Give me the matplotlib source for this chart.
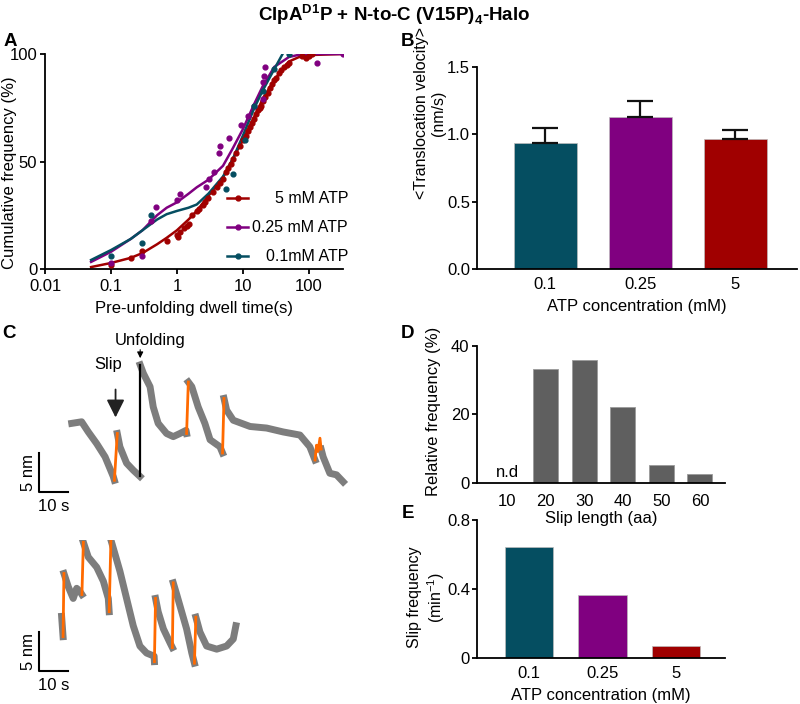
import matplotlib
matplotlib.use("Agg")
import matplotlib.pyplot as plt
from matplotlib.lines import Line2D
import numpy as np

plt.rcParams['font.family'] = ['Liberation Sans', 'DejaVu Sans']
plt.rcParams['mathtext.fontset'] = 'custom'
plt.rcParams['mathtext.rm'] = 'Liberation Sans'
plt.rcParams['mathtext.bf'] = 'Liberation Sans:bold'
plt.rcParams['font.size'] = 12
plt.rcParams['axes.linewidth'] = 1.3
plt.rcParams['xtick.major.width'] = 1.3
plt.rcParams['ytick.major.width'] = 1.3
plt.rcParams['xtick.major.size'] = 3.5
plt.rcParams['ytick.major.size'] = 3.5

TEAL = '#054e61'
PURPLE = '#800080'
RED = '#a00000'
GRAY = '#5f5f5f'
ORANGE = '#ff6a00'

# ---- panel A: cumulative dwell-time distributions ----
red_fit_x = [0.05, 0.1, 0.2, 0.3, 0.5, 0.7, 1, 1.5, 2, 3, 5, 7, 10, 15, 20, 30, 50, 70, 100, 330]
red_fit_y = [0.9, 2.8, 5.2, 7.4, 11.5, 14.5, 18, 23, 27, 34, 42.5, 51, 60, 71, 79, 88, 96.5, 98.5, 99.5, 100]
pur_fit_x = [0.05, 0.1, 0.2, 0.3, 0.5, 0.7, 1, 1.5, 2, 3, 5, 7, 10, 15, 20, 30, 50, 70, 100, 330]
pur_fit_y = [3.3, 8, 14, 18, 25, 28.5, 31, 35, 38, 41.5, 48, 56, 65, 77, 85, 94, 98.6, 99.6, 100, 100]
teal_fit_x = [0.05, 0.1, 0.2, 0.3, 0.5, 0.7, 1, 1.5, 2, 3, 5, 7, 10, 15, 20, 30, 40]
teal_fit_y = [4.2, 8.8, 14, 18, 23, 25.5, 27, 28.5, 30, 35, 43, 51, 62, 75, 83, 93, 100]

red_pts_x = [0.1, 0.2, 0.3, 0.7, 1.0, 1.05, 1.1, 1.3, 1.4, 1.5, 1.7, 2.0, 2.2, 2.5, 2.7, 3, 3.5,
             4, 4.5, 5, 5.5, 6, 6.5, 7, 8, 9, 10, 11, 12, 13, 14, 15, 16, 17, 18, 19, 20, 22,
             24, 26, 28, 30, 32, 35, 38, 42, 46, 50, 80, 90, 100, 110]
red_pts_y = [2, 5, 8.5, 13, 16, 15, 17, 19, 20, 21, 25, 27, 28, 30, 31, 33, 36,
             38, 40, 42, 45, 47, 49, 51, 54, 57, 60, 62, 64, 66, 68, 70, 72, 74, 75, 76, 78, 80,
             82, 84, 86, 88, 89, 91, 92.5, 94, 95, 96, 99, 98, 99, 100]
pur_pts_x = [0.1, 0.3, 0.4, 0.49, 1.0, 1.1, 2.8, 3.1, 3.7, 4.4, 4.5, 6.2, 9.5, 12, 15, 20, 20, 21, 22, 131, 330]
pur_pts_y = [2.8, 6, 22.5, 29, 32, 35, 38, 42, 45, 54, 57, 61, 67, 71, 76, 79, 87, 90, 94, 96, 100]
teal_pts_x = [0.1, 0.3, 0.4, 5.5, 7.2, 10.8, 15, 20, 30, 50]
teal_pts_y = [6, 12, 25, 37, 44, 60, 76, 83, 93, 100]
legend_labels = ['5 mM ATP', '0.25 mM ATP', '0.1mM ATP']

# ---- panel B: translocation velocity ----
atp_labels = ['0.1', '0.25', '5']
velocity = [0.935, 1.126, 0.966]
velocity_err = [0.112, 0.122, 0.066]
bar_colors = [TEAL, PURPLE, RED]

# ---- panel D: slip length histogram ----
slip_len = ['10', '20', '30', '40', '50', '60']
slip_freq = [0, 33.1, 35.8, 22.0, 5.3, 2.6]

# ---- panel E: slip frequency ----
slip_rate = [0.645, 0.366, 0.068]

# ---- panel C: example traces (time s, position nm) ----
tr1_gray = [
    ([11.2, 14.6, 16.9, 19.8, 22.7, 25.5, 25.9], [8.8, 9.0, 7.7, 6.2, 4.5, 2.0, 1.5]),
    ([26.9, 27.8, 30.1, 32.4, 34.7], [7.5, 5.8, 3.7, 2.8, 2.0]),
    ([34.8, 35.9, 38.2, 39.3, 41.0, 43.9, 46.2, 48.5, 50.6, 50.8],
     [16.3, 15.2, 13.5, 10.9, 8.8, 7.5, 7.1, 7.5, 7.9, 7.5]),
    ([51.4, 52.6, 54.8, 57.1, 58.9, 62.3, 63.2], [14.1, 13.5, 10.9, 8.8, 6.7, 5.8, 5.0]),
    ([63.7, 64.6, 66.9, 72.7, 78.4, 84.1, 89.9, 93.3, 95.1],
     [12.0, 10.5, 9.2, 8.4, 8.2, 7.7, 7.3, 5.8, 4.1]),
    ([97.2, 97.9, 100.2, 102.5, 104.8], [5.5, 4.5, 2.4, 2.2, 1.3]),
]
tr1_orange = [
    ([25.9, 26.9], [1.5, 7.5]),
    ([50.8, 51.4], [7.5, 14.1]),
    ([63.2, 63.7], [5.0, 12.0]),
    ([95.1, 95.6, 96.1, 96.8, 97.2], [4.1, 6.0, 5.2, 6.9, 5.5]),
]
tr1_unfold = ([34.8, 34.8], [2.0, 16.3])

tr2_gray = [
    ([7.7, 8.2], [7.0, 4.4]),
    ([8.5, 10.0, 11.7, 12.9, 14.0, 14.7], [12.5, 10.8, 9.3, 10.6, 10.2, 9.8]),
    ([15.2, 16.9, 19.8, 22.1, 23.8, 24.1], [16.5, 14.6, 13.3, 11.5, 9.3, 7.6]),
    ([24.7, 26.1, 27.8, 30.1, 32.4, 34.7, 37.0, 39.6, 39.7],
     [16.8, 15.0, 12.8, 9.3, 5.8, 3.2, 2.3, 1.9, 1.2]),
    ([40.1, 41.0, 42.8, 45.1, 45.9], [9.3, 7.6, 5.4, 3.6, 3.0]),
    ([46.2, 47.4, 49.1, 50.8, 52.6, 53.5], [11.3, 9.8, 7.6, 5.4, 2.3, 1.0]),
    ([54.0, 55.4, 57.7, 61.2, 64.6, 66.9, 67.8], [6.9, 5.0, 3.2, 2.8, 3.2, 4.1, 5.8]),
]
tr2_orange = [
    ([8.2, 8.5], [4.4, 12.5]),
    ([14.7, 15.2], [9.8, 16.5]),
    ([24.1, 24.7], [7.6, 16.8]),
    ([39.7, 40.1], [1.2, 9.3]),
    ([45.9, 46.2], [3.0, 11.3]),
    ([53.5, 54.0], [1.0, 6.9]),
]

fig = plt.figure(figsize=(8, 7.04), dpi=100)

fig.text(0.493, 1 - 15 / 704, r'ClpA$^{\mathbf{D1}}$P + N-to-C (V15P)$_{\mathbf{4}}$-Halo',
         ha='center', va='center', fontsize=13.5, fontweight='bold')
for lab, x, y in [('A', 10, 42), ('B', 408, 42), ('C', 9, 333), ('D', 408, 333), ('E', 408, 513)]:
    fig.text(x / 800, 1 - y / 704, lab, ha='center', va='center', fontsize=13.5, fontweight='bold')


def clean(ax):
    ax.spines['top'].set_visible(False)
    ax.spines['right'].set_visible(False)
    ax.patch.set_visible(False)


# A
axA = fig.add_axes([45 / 800, 1 - 269 / 704, 298 / 800, 215 / 704])
clean(axA)
axA.plot(red_fit_x, red_fit_y, color=RED, lw=1.8)
axA.plot(pur_fit_x, pur_fit_y, color=PURPLE, lw=1.8)
axA.plot(teal_fit_x, teal_fit_y, color=TEAL, lw=1.8)
axA.scatter(red_pts_x, red_pts_y, s=12, color=RED, zorder=3)
axA.scatter(pur_pts_x, pur_pts_y, s=12, color=PURPLE, zorder=3)
axA.scatter(teal_pts_x, teal_pts_y, s=12, color=TEAL, zorder=3)
axA.set_xscale('log')
axA.set_xlim(0.01, 330)
axA.set_ylim(0, 100)
axA.set_xticks([0.01, 0.1, 1, 10, 100])
axA.set_xticklabels(['0.01', '0.1', '1', '10', '100'])
axA.xaxis.set_minor_locator(matplotlib.ticker.NullLocator())
axA.set_yticks([0, 50, 100])
axA.tick_params(axis='y', pad=2)
axA.set_xlabel('Pre-unfolding dwell time(s)', labelpad=5)
axA.set_ylabel('Cumulative frequency (%)')
axA.yaxis.set_label_coords(-0.094, 0.447)
# legend drawn by hand: short line with a dot, label right-aligned
for i, (lab, col) in enumerate(zip(legend_labels, [RED, PURPLE, TEAL])):
    ly = 0.33 - i * 0.135
    axA.add_line(Line2D([0.61, 0.682], [ly, ly], transform=axA.transAxes, color=col, lw=1.8,
                        clip_on=False))
    axA.add_line(Line2D([0.646], [ly], transform=axA.transAxes, color=col, marker='o',
                        markersize=3.5, clip_on=False))
    axA.text(1.017, ly, lab, transform=axA.transAxes, ha='right', va='center', fontsize=11.5)

# B
xb = np.arange(len(atp_labels))
axB = fig.add_axes([477 / 800, 1 - 269 / 704, 320 / 800, 202 / 704])
clean(axB)
axB.bar(xb, velocity, width=0.66, color=bar_colors, edgecolor='#bbbbbb', linewidth=0.5,
        yerr=[[0] * 3, velocity_err], capsize=9.5,
        error_kw=dict(elinewidth=1.6, capthick=1.6, ecolor='#111111'))
axB.set_xlim(-0.72, 2.65)
axB.set_ylim(0, 1.5)
axB.set_xticks(xb)
axB.set_xticklabels(atp_labels)
axB.tick_params(axis='x', length=0, pad=6)
axB.tick_params(axis='y', pad=1.5)
axB.set_yticks([0, 0.5, 1.0, 1.5])
axB.set_yticklabels(['0.0', '0.5', '1.0', '1.5'])
axB.set_xlabel('ATP concentration (mM)', labelpad=5)
axB.set_ylabel('<Translocation velocity>\n(nm/s)', fontsize=11.5)
axB.yaxis.set_label_coords(-0.097, 0.77)

# D
xd = np.arange(len(slip_len))
axD = fig.add_axes([477 / 800, 1 - 483 / 704, 248 / 800, 137.3 / 704])
clean(axD)
axD.bar(xd, slip_freq, width=0.65, color=GRAY, edgecolor='#9a9a9a', linewidth=0.6)
axD.text(xd[0], 0.8, 'n.d', ha='center', va='bottom', fontsize=12)
axD.set_xlim(-0.79, 5.65)
axD.set_ylim(0, 40)
axD.set_xticks(xd)
axD.set_xticklabels(slip_len)
axD.tick_params(axis='x', length=0, pad=8)
axD.tick_params(axis='y', pad=2)
axD.set_yticks([0, 20, 40])
axD.set_xlabel('Slip length (aa)', labelpad=1)
axD.set_ylabel('Relative frequency (%)')
axD.yaxis.set_label_coords(-0.145, 0.52)

# E
xe = np.arange(len(atp_labels))
axE = fig.add_axes([477 / 800, 1 - 657.7 / 704, 248 / 800, 137.7 / 704])
clean(axE)
axE.bar(xe, slip_rate, width=0.66, color=bar_colors, edgecolor='#bbbbbb', linewidth=0.5)
axE.set_xlim(-0.71, 2.67)
axE.set_ylim(0, 0.8)
axE.set_xticks(xe)
axE.set_xticklabels(atp_labels)
axE.tick_params(axis='x', length=0, pad=6)
axE.tick_params(axis='y', pad=1.5)
axE.set_yticks([0, 0.4, 0.8])
axE.set_yticklabels(['0', '0.4', '0.8'])
axE.set_xlabel('ATP concentration (mM)', labelpad=5)
axE.set_ylabel('Slip frequency\n(min$^{-1}$)', fontsize=11.5)
axE.yaxis.set_label_coords(-0.122, 0.44)

# C traces
axC1 = fig.add_axes([0, 1 - 520 / 704, 0.5, 190 / 704])
axC1.set_xlim(-13.55, 124.4)
axC1.set_ylim(-3.59, 20.77)
axC1.axis('off')
for t, y in tr1_gray:
    axC1.plot(t, y, color='#7d7d7d', lw=5, solid_joinstyle='round')
for t, y in tr1_orange:
    axC1.plot(t, y, color=ORANGE, lw=2)
axC1.plot(tr1_unfold[0], tr1_unfold[1], color='k', lw=1.6)
axC1.plot([0, 0, 10], [5, 0, 0], color='k', lw=1.5)
axC1.text(-3.8, 2.5, '5 nm', rotation=90, ha='center', va='center', fontsize=12)
axC1.text(5, -1.8, '10 s', ha='center', va='center', fontsize=12)
axC1.text(23.7, 16.3, 'Slip', ha='center', va='center', fontsize=12)
axC1.annotate('', xy=(26.3, 9.2), xytext=(26.3, 13.5),
              arrowprops=dict(arrowstyle='-|>,head_width=0.45,head_length=0.9', lw=1.3, color='#222222'))
axC1.text(38.2, 19.4, 'Unfolding', ha='center', va='center', fontsize=12)
axC1.annotate('', xy=(34.8, 16.8), xytext=(34.8, 18.6),
              arrowprops=dict(arrowstyle='-|>,head_width=0.15,head_length=0.3', lw=0.8, color='k'))

axC2 = fig.add_axes([0, 0, 0.5, 164 / 704])
axC2.set_xlim(-13.55, 124.4)
axC2.set_ylim(-4.23, 16.79)
axC2.axis('off')
for t, y in tr2_gray:
    axC2.plot(t, y, color='#7d7d7d', lw=5, solid_joinstyle='round')
for t, y in tr2_orange:
    axC2.plot(t, y, color=ORANGE, lw=2)
axC2.plot([0, 0, 10], [5, 0, 0], color='k', lw=1.5)
axC2.text(-3.8, 2.5, '5 nm', rotation=90, ha='center', va='center', fontsize=12)
axC2.text(5, -1.8, '10 s', ha='center', va='center', fontsize=12)

fig.savefig('out.png', dpi=100)
